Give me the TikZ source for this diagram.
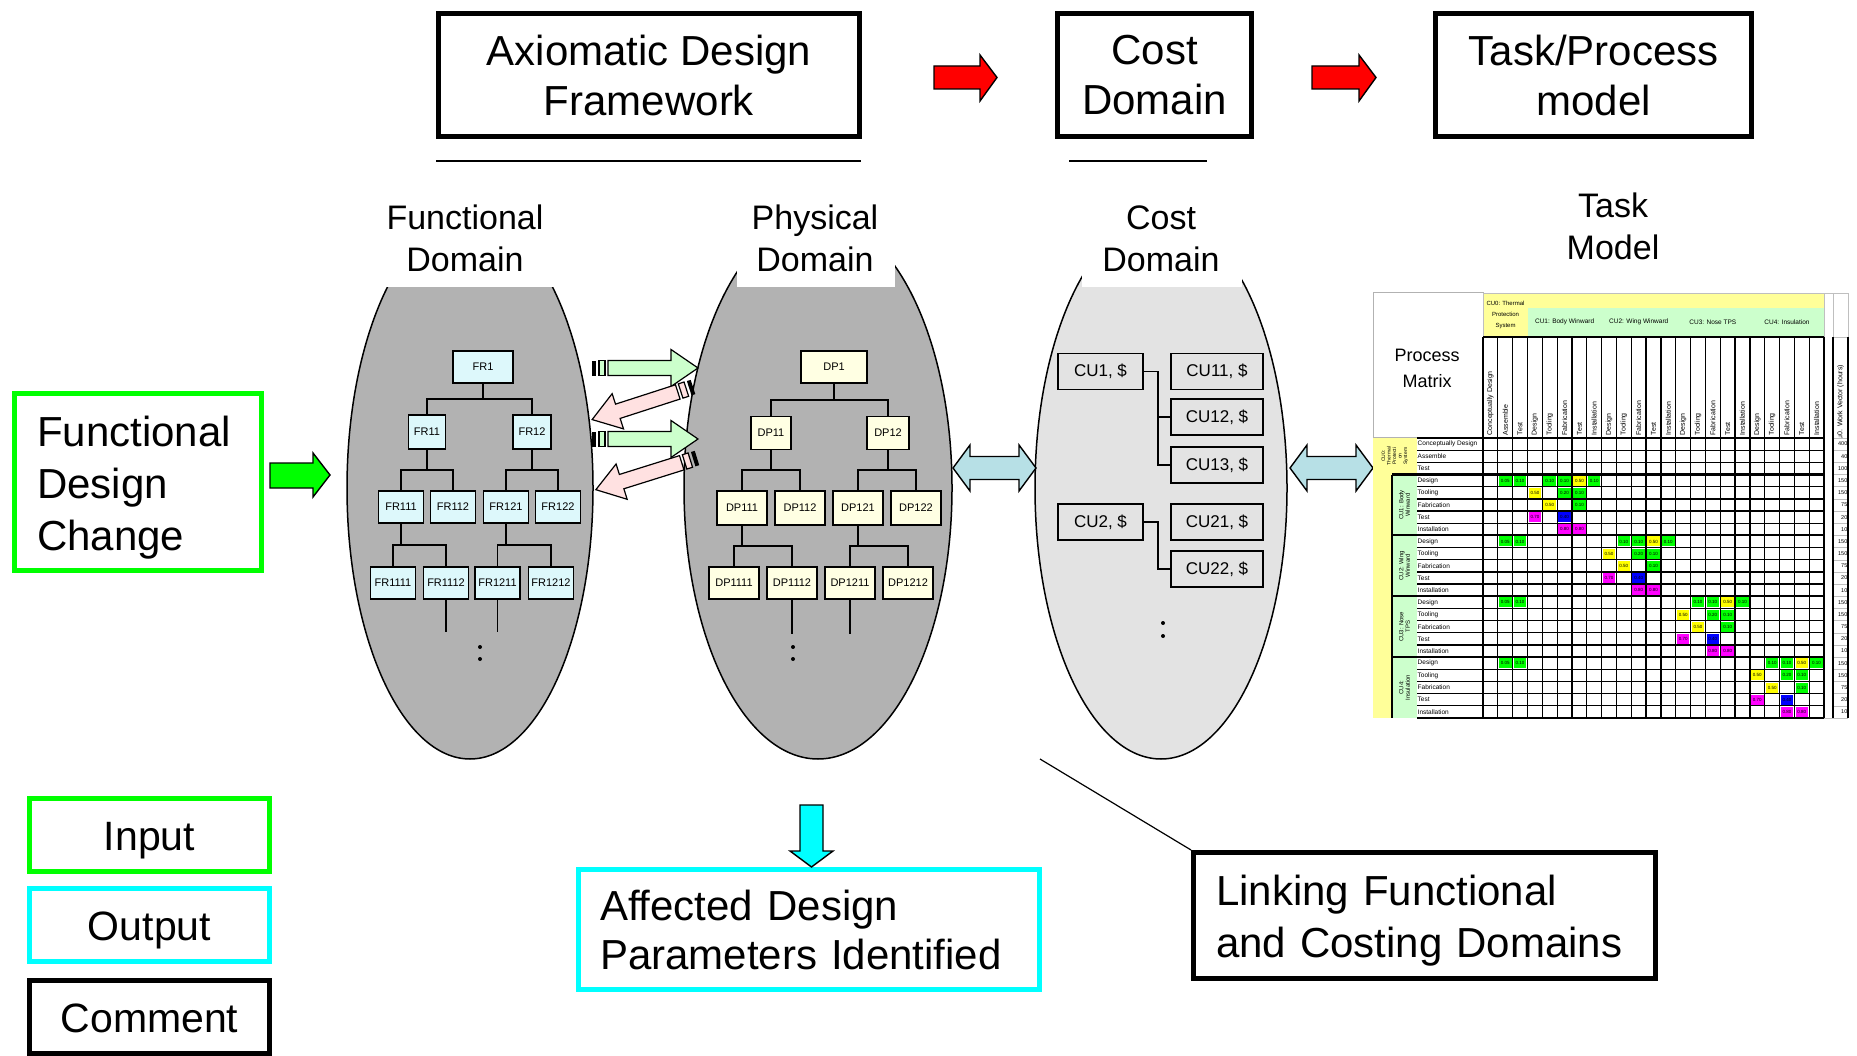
\documentclass[tikz,border=0pt]{standalone}
\usepackage{fontspec}
\setmainfont{Liberation Sans}
\usetikzlibrary{shapes.geometric,calc}
\definecolor{frfill}{HTML}{DDF8FB}
\definecolor{dpfill}{HTML}{FFFFE3}
\definecolor{domgray}{HTML}{B2B2B2}
\definecolor{costgray}{HTML}{E3E3E3}
\definecolor{ingreen}{HTML}{00FF00}
\definecolor{outcyan}{HTML}{00FFFF}
\definecolor{stripgreen}{HTML}{CCFFCC}
\definecolor{strippink}{HTML}{FFE1E1}
\definecolor{linkblue}{HTML}{B7E0E6}
\definecolor{matyellow}{HTML}{FFFF99}
\definecolor{matgreen}{HTML}{CCFFCC}
\definecolor{cellg}{HTML}{00FF00}
\definecolor{celly}{HTML}{FFFF00}
\definecolor{cellm}{HTML}{FF00FF}
\definecolor{cellb}{HTML}{0000FF}

% striped block arrow, tail at the origin, pointing along +x
\tikzset{pics/striparrow/.style={code={
  \fill (0,-7.5) rectangle (4,7.5);
  \filldraw[fill=#1, line width=1.2pt] (7,-7.5) rectangle (13,7.5);
  \filldraw[fill=#1, line width=1.2pt, line join=miter] (16,-7.5) -- (79,-7.5) -- (79,-18.5)
    -- (106,0) -- (79,18.5) -- (79,7.5) -- (16,7.5) -- cycle;
}}}

\begin{document}
\begin{tikzpicture}[x=1pt, y=-1pt,
  headbox/.style={draw, line width=5pt, inner sep=0pt, align=center,
                  minimum height=123pt, font=\fontsize{42}{50}\selectfont},
  domlabel/.style={align=center, inner sep=0pt, font=\fontsize{34}{42}\selectfont},
  dom/.style={ellipse, draw, line width=1.5pt, inner sep=0pt, minimum height=542pt},
  frbox/.style={draw, fill=frfill, line width=1.6pt, inner sep=0pt,
                minimum width=45pt, minimum height=32pt, font=\fontsize{11}{11}\selectfont},
  dpbox/.style={frbox, fill=dpfill, minimum width=50pt},
  cubox/.style={draw, fill=costgray, line width=1.6pt, inner sep=0pt,
                minimum width=92pt, minimum height=36pt, font=\fontsize{17}{17}\selectfont},
  treeline/.style={line width=1.8pt},
  legbox/.style={draw, line width=5pt, inner sep=0pt, minimum width=240pt,
                 minimum height=73pt, text height=30pt, text depth=0pt,
                 font=\fontsize{41}{41}\selectfont},
  notebox/.style={draw, line width=5pt, align=left, inner ysep=0pt,
                  font=\fontsize{42}{50}\selectfont},
  blockarr/.style={draw, line width=1.4pt, line join=miter},
  gridline/.style={line width=1.3pt},
  mattxt/.style={inner sep=0.5pt, font=\fontsize{6.5}{6.5}\selectfont},
  datacell/.style={inner sep=0pt, minimum width=12.5pt, minimum height=10pt,
                   font=\fontsize{4.5}{4.5}\selectfont}]
\useasboundingbox (0,0) rectangle (1857,1056);

% framework boxes
\node[headbox, minimum width=421pt] (axio) at (649,75) {Axiomatic Design\\Framework};
\node[headbox, minimum width=194pt] (costd) at (1154.5,75) {Cost\\Domain};
\node[headbox, minimum width=316pt] (task) at (1593.5,75) {Task/Process\\model};
\filldraw[blockarr, fill=red] (934,66) -- (980,66) -- (980,55) -- (997,77.5) -- (980,101)
  -- (980,89) -- (934,89) -- cycle;
\filldraw[blockarr, fill=red] (1312,66) -- (1359,66) -- (1359,55) -- (1376,77.5) -- (1359,101)
  -- (1359,89) -- (1312,89) -- cycle;
\draw[line width=2.5pt] (436,161) -- (861,161);
\draw[line width=2.5pt] (1069,161) -- (1207,161);

% domains
\node[dom, fill=domgray, minimum width=246pt] (fdom) at (470,488) {};
\node[dom, fill=domgray, minimum width=268pt] (pdom) at (818,488) {};
\node[dom, fill=costgray, minimum width=252pt] (cdom) at (1161,488) {};
\fill[white] (383,190) rectangle (557,287);
\fill[white] (737,190) rectangle (895,287);
\fill[white] (1082,190) rectangle (1242,287);
\node[domlabel] (flabel) at (465,238.5) {Functional\\Domain};
\node[domlabel] (plabel) at (815,238.5) {Physical\\Domain};
\node[domlabel] (clabel) at (1161,238.5) {Cost\\Domain};
\node[domlabel] (tlabel) at (1613,226.5) {Task\\Model};

% functional requirements
\node[frbox, minimum width=60pt] (fr1) at (483,367) {FR1};
\node[frbox, minimum width=37pt, minimum height=34pt] (fr11) at (427,432) {FR11};
\node[frbox, minimum width=38pt, minimum height=34pt] (fr12) at (532,432) {FR12};
\node[frbox] (fr111) at (401,507) {FR111};
\node[frbox] (fr112) at (453,507) {FR112};
\node[frbox] (fr121) at (506,507) {FR121};
\node[frbox] (fr122) at (558,507) {FR122};
\node[frbox] (fr1111) at (393,583) {FR1111};
\node[frbox] (fr1112) at (446,583) {FR1112};
\node[frbox] (fr1211) at (497.5,583) {FR1211};
\node[frbox] (fr1212) at (551,583) {FR1212};

% design parameters
\node[dpbox, minimum width=66pt] (dp1) at (834,367) {DP1};
\node[dpbox, minimum width=40pt, minimum height=33pt] (dp11) at (771,433) {DP11};
\node[dpbox, minimum width=42pt, minimum height=33pt] (dp12) at (888,433) {DP12};
\node[dpbox, minimum height=34pt] (dp111) at (742,508) {DP111};
\node[dpbox, minimum height=34pt] (dp112) at (800,508) {DP112};
\node[dpbox, minimum height=34pt] (dp121) at (858,508) {DP121};
\node[dpbox, minimum height=34pt] (dp122) at (916,508) {DP122};
\node[dpbox] (dp1111) at (734,583) {DP1111};
\node[dpbox] (dp1112) at (792,583) {DP1112};
\node[dpbox] (dp1211) at (850,583) {DP1211};
\node[dpbox] (dp1212) at (908,583) {DP1212};

\foreach \p/\a/\b in {fr1/fr11/fr12, fr11/fr111/fr112, fr12/fr121/fr122,
    fr111/fr1111/fr1112, fr121/fr1211/fr1212, dp1/dp11/dp12, dp11/dp111/dp112,
    dp12/dp121/dp122, dp111/dp1111/dp1112, dp121/dp1211/dp1212}
  \draw[treeline] ($(\p.south)!.5!(\a.north)$) coordinate (j)
    (\p.south) |- (j) (\a.north) |- (j) -| (\b.north);
\draw[treeline] (fr1112.south) -- ++(0,32);
\draw[treeline] (fr1211.south) -- ++(0,32);
\draw[treeline] (dp1112.south) -- ++(0,34);
\draw[treeline] (dp1211.south) -- ++(0,34);
\foreach \x/\y in {480/647, 480/659, 793/647, 793/659, 1163/623, 1163/636}
  \fill (\x,\y) circle (2);

% cost units
\node[cubox, minimum width=85pt] (cu1) at (1100.5,371.5) {CU1, \$};
\node[cubox] (cu11) at (1217,371.5) {CU11, \$};
\node[cubox] (cu12) at (1217,417) {CU12, \$};
\node[cubox] (cu13) at (1217,465) {CU13, \$};
\node[cubox, minimum width=85pt] (cu2) at (1100.5,522) {CU2, \$};
\node[cubox] (cu21) at (1217,522) {CU21, \$};
\node[cubox] (cu22) at (1217,569) {CU22, \$};
\draw[treeline] (cu1.east) -- ++(14,0) coordinate (cuj1) |- (cu13.west)
  (cuj1) |- (cu12.west);
\draw[treeline] (cu2.east) -- ++(14,0) coordinate (cuj2) |- (cu22.west);

% FR <-> DP mapping arrows
\pic at (592,368) {striparrow=stripgreen};
\pic at (592,439) {striparrow=stripgreen};
\pic[rotate=197.9] at (693,387) {striparrow=strippink};
\pic[rotate=197.4] at (697,458) {striparrow=strippink};

% domain links
\filldraw[blockarr, fill=linkblue] (953,468) -- (970,445) -- (970,456.5) -- (1019,456.5)
  -- (1019,445) -- (1036,468) -- (1019,491) -- (1019,479.5) -- (970,479.5) -- (970,491) -- cycle;
\filldraw[blockarr, fill=linkblue] (1290,468) -- (1307,445) -- (1307,456.5) -- (1356,456.5)
  -- (1356,445) -- (1373,468) -- (1356,491) -- (1356,479.5) -- (1307,479.5) -- (1307,491) -- cycle;

% input, output, comment
\node[notebox, draw=ingreen, minimum width=247pt, minimum height=177pt,
      inner xsep=22.5pt, text width=202pt, font=\fontsize{42}{52}\selectfont] (fdc) at (138,482)
  {\rule{0pt}{41pt}Functional\\Design\\Change};
\filldraw[blockarr, fill=ingreen] (270,463) -- (313,463) -- (313,453) -- (330,475) -- (313,497)
  -- (313,488) -- (270,488) -- cycle;
\node[notebox, draw=outcyan, minimum width=461pt, minimum height=120pt,
      inner xsep=21.5pt, text width=418pt, font=\fontsize{42}{49}\selectfont] (adp) at (809,929.5)
  {Affected Design\\Parameters Identified};
\filldraw[blockarr, fill=outcyan] (800,805) -- (823,805) -- (823,851) -- (833,851) -- (811.5,867)
  -- (790,851) -- (800,851) -- cycle;
\node[notebox, minimum width=462pt, minimum height=126pt,
      inner xsep=22.5pt, text width=417pt, font=\fontsize{42}{52}\selectfont] (link) at (1424.5,915.5)
  {\rule{0pt}{41pt}Linking Functional\\and Costing Domains};
\coordinate (callout) at (1040,759);
\draw[line width=1.2pt] (callout) -- (link.north west);

\node[legbox, draw=ingreen] (input) at (149.5,835) {Input};
\node[legbox, draw=outcyan] (output) at (149.5,925) {Output};
\node[legbox] (comment) at (149.5,1017) {Comment};

% process matrix
\draw[gray!60, line width=1pt] (1373,293) rectangle (1483,437);
\node[align=center, inner sep=0pt, font=\fontsize{18}{26}\selectfont] (pmat) at (1427,368) {Process\\Matrix};
\fill[matyellow] (1483,293) rectangle (1824,308);
\fill[matyellow] (1483,308) rectangle (1527.5,337);
\foreach \b in {0,...,3}
  \fill[matgreen] ({1527.5+74.13*\b},308) rectangle ({1601.6+74.13*\b},337);
\draw[gray!50] (1483,293) rectangle (1824,337);
\draw[gray!50] (1824,293) rectangle (1833,718);
\draw[gray!50] (1833,293) rectangle (1848,337);
\node[align=center, inner sep=0pt, font=\fontsize{6}{11}\selectfont] (cu0head) at (1505.5,315)
  {CU0: Thermal\\Protection\\System};
\foreach \t [count=\b from 0] in {CU1: Body Winward, CU2:  Wing Winward, CU3: Nose TPS, CU4: Insulation}
  \node[mattxt] (cuhead\b) at ({1564.6+74.13*\b},322) {\t};
\foreach \t [count=\k from 0] in {Conceptually Design,Assemble,Test,Design,Tooling,Fabrication,
    Test,Installation,Design,Tooling,Fabrication,Test,Installation,Design,Tooling,Fabrication,
    Test,Installation,Design,Tooling,Fabrication,Test,Installation}
  \node[mattxt, rotate=90, anchor=west, font=\fontsize{7}{7}\selectfont] (colhead\k)
    at ({1483+14.826*(\k+0.5)},436) {\t};
\node[mattxt, rotate=90, anchor=west, font=\fontsize{7}{7}\selectfont] (wvhead) at (1840.5,440)
  {u0. Work Vector (hours)};

\fill[matyellow] (1373,438) rectangle (1392,718);
\fill[matyellow] (1392,438) rectangle (1417,474.5);
\foreach \b in {0,...,3}
  \fill[matgreen] (1392,{474.5+60.87*\b}) rectangle (1417,{474.5+60.87*(\b+1)});
\node[rotate=90, align=center, inner sep=0pt, font=\fontsize{5}{5.5}\selectfont] (cu0lab)
  at (1395,456) {CU0:\\Thermal\\Protecti\\on\\System};
\foreach \t [count=\b from 0] in {CU1: Body\\Winward, CU2: Wing\\Winward, CU3: Nose\\TPS, CU4:\\Insulation}
  \node[rotate=90, align=center, inner sep=0pt, font=\fontsize{6}{6.5}\selectfont] (culab\b)
    at (1404.5,{505+60.87*\b}) {\t};
\foreach \t [count=\r from 0] in {Conceptually Design,Assemble,Test,Design,Tooling,Fabrication,
    Test,Installation,Design,Tooling,Fabrication,Test,Installation,Design,Tooling,Fabrication,
    Test,Installation,Design,Tooling,Fabrication,Test,Installation}
  \node[mattxt, anchor=west] (rowlab\r) at (1417,{438+12.174*(\r+0.5)}) {\t};
\foreach \v [count=\r from 0] in {400,40,100,150,150,75,20,10,150,150,75,20,10,150,150,75,20,10,
    150,150,75,20,10}
  \node[anchor=east, inner sep=0.5pt, font=\fontsize{5.5}{5.5}\selectfont] (wv\r)
    at (1848,{438+12.174*(\r+0.5)}) {\v};
\foreach \r in {0,...,23}
  \draw[gray!50] (1833,{438+12.174*\r}) -- (1848,{438+12.174*\r});

% coloured cells
\foreach \b in {0,...,3}{
  \foreach \c/\v in {1/0.05, 2/0.10}
    \node[datacell, fill=cellg] (cell-\b-\c) at ({1483+14.826*(\c+0.5)},{438+12.174*(3+5*\b+0.5)}) {\v};
  \foreach \dr/\dc/\cc/\v in {0/1/cellg/0.10, 0/2/cellg/0.10, 0/3/celly/0.50, 0/4/cellg/0.10,
      1/0/celly/0.50, 1/2/cellg/0.20, 1/3/cellg/0.10, 2/1/celly/0.50, 2/3/cellg/0.10,
      3/0/cellm/0.70, 3/2/cellb/0.40, 4/2/cellm/0.80, 4/3/cellm/0.80}
    \node[datacell, fill=\cc] (cell-\b-\dr-\dc)
      at ({1483+14.826*(3+5*\b+\dc+0.5)},{438+12.174*(3+5*\b+\dr+0.5)}) {\v};
}

% grid
\foreach \k in {0,...,23}
  \draw[gridline] ({1483+14.826*\k},337) -- ({1483+14.826*\k},718);
\foreach \r in {0,...,23}
  \draw[gridline] (1417,{438+12.174*\r}) -- (1824,{438+12.174*\r});
\foreach \r in {3,8,13,18}
  \draw[line width=2.2pt] (1392,{438+12.174*\r}) -- (1824,{438+12.174*\r});
\draw[gridline] (1483,337) -- (1824,337);
\draw[line width=1.8pt] (1392,474.5) -- (1392,718);
\draw[line width=1.8pt] (1833,337) -- (1833,718);
\draw[line width=1.8pt] (1848,337) -- (1848,718);
\end{tikzpicture}
\end{document}
